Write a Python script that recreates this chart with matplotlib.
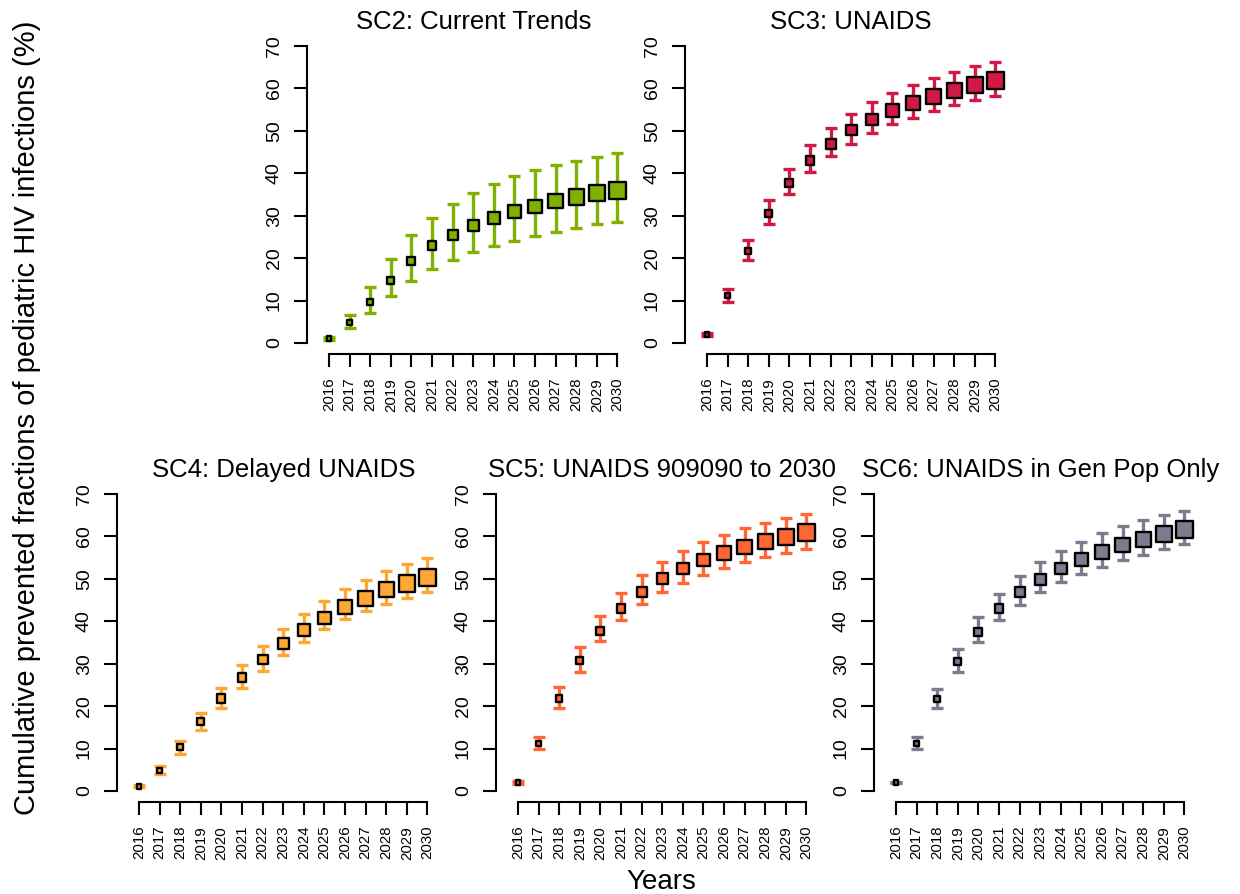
import numpy as np
import matplotlib
matplotlib.use("Agg")
import matplotlib.pyplot as plt

plt.rcParams["font.family"] = ["Liberation Sans", "DejaVu Sans"]

years = list(range(2016, 2031))

sc2_mid = [1.1, 4.8, 9.6, 14.7, 19.3, 22.9, 25.5, 27.7, 29.5, 31.0, 32.2, 33.4, 34.4, 35.3, 36.0]
sc2_low = [0.8, 3.5, 7.1, 11.1, 14.7, 17.5, 19.6, 21.4, 22.9, 24.1, 25.2, 26.2, 27.0, 28.0, 28.6]
sc2_high = [1.4, 6.7, 13.1, 19.9, 25.5, 29.5, 32.8, 35.4, 37.5, 39.4, 40.8, 42.0, 43.0, 43.9, 44.7]

sc3_mid = [2.0, 11.2, 21.7, 30.6, 37.8, 43.0, 47.0, 50.2, 52.7, 54.8, 56.6, 58.1, 59.5, 60.9, 61.9]
sc3_low = [1.7, 9.7, 19.5, 28.1, 35.2, 40.3, 44.0, 47.0, 49.4, 51.5, 53.1, 54.7, 56.0, 57.2, 58.3]
sc3_high = [2.3, 12.7, 24.2, 33.8, 41.1, 46.7, 50.7, 54.0, 56.7, 59.0, 60.9, 62.4, 63.9, 65.2, 66.2]

sc4_mid = [1.1, 4.8, 10.3, 16.3, 21.8, 26.7, 31.0, 34.7, 37.9, 40.8, 43.4, 45.4, 47.4, 48.9, 50.4]
sc4_low = [0.9, 3.9, 8.8, 14.4, 19.6, 24.2, 28.3, 32.0, 35.2, 38.1, 40.5, 42.5, 44.1, 45.6, 46.9]
sc4_high = [1.3, 5.8, 11.9, 18.4, 24.3, 29.6, 34.2, 38.2, 41.6, 44.8, 47.5, 49.8, 51.8, 53.4, 54.9]

sc5_mid = [2.0, 11.2, 21.8, 30.7, 37.8, 43.1, 47.0, 50.0, 52.4, 54.4, 56.1, 57.5, 58.8, 59.9, 60.9]
sc5_low = [1.7, 9.8, 19.6, 28.1, 35.3, 40.3, 44.0, 46.8, 49.1, 51.0, 52.6, 54.0, 55.1, 56.2, 57.0]
sc5_high = [2.3, 12.7, 24.4, 33.9, 41.2, 46.7, 50.8, 54.0, 56.5, 58.6, 60.4, 61.9, 63.2, 64.3, 65.4]

sc6_mid = [2.0, 11.2, 21.6, 30.6, 37.5, 43.0, 46.8, 49.9, 52.4, 54.5, 56.3, 57.9, 59.3, 60.5, 61.6]
sc6_low = [1.8, 9.9, 19.5, 28.0, 35.0, 40.4, 43.9, 47.0, 49.3, 51.2, 52.9, 54.4, 55.7, 57.0, 58.1]
sc6_high = [2.2, 12.8, 24.1, 33.5, 40.9, 46.5, 50.6, 53.9, 56.6, 58.8, 60.7, 62.4, 63.8, 65.1, 66.1]

titles = ["SC2: Current Trends", "SC3: UNAIDS", "SC4: Delayed UNAIDS",
          "SC5: UNAIDS 909090 to 2030", "SC6: UNAIDS in Gen Pop Only"]
colors = ["#80B000", "#D01A45", "#FFA733", "#FF6633", "#807A8F"]
series = [(sc2_mid, sc2_low, sc2_high), (sc3_mid, sc3_low, sc3_high),
          (sc4_mid, sc4_low, sc4_high), (sc5_mid, sc5_low, sc5_high),
          (sc6_mid, sc6_low, sc6_high)]

# panel placement in pixels: (y-axis line x, y of value 0)
W, H = 1240, 894
panel_pos = [(307, 343), (685, 343), (117, 791), (496, 791), (874, 791)]
PX_YR = 20.6
PX_PCT = 4.243
XLIM = (2016 - 22 / PX_YR, 2031.07)
YLIM = (-2.5, 72.8)

fig = plt.figure(figsize=(W / 100, H / 100), dpi=100)

sizes_pt = np.linspace(4.5, 17, len(years)) * 0.72

for (sx, zy), title, col, (mid, low, high) in zip(panel_pos, titles, colors, series):
    left = sx
    right = sx + (XLIM[1] - XLIM[0]) * PX_YR
    top = zy - YLIM[1] * PX_PCT
    bottom = zy - YLIM[0] * PX_PCT
    ax = fig.add_axes([left / W, 1 - bottom / H, (right - left) / W, (bottom - top) / H])
    mid = np.array(mid); low = np.array(low); high = np.array(high)
    ax.errorbar(years, mid, yerr=[mid - low, high - mid], fmt="none", ecolor=col,
                elinewidth=2.4, capsize=4, capthick=2.4, zorder=2)
    ax.scatter(years, mid, s=sizes_pt ** 2, marker="s", c=col, edgecolors="black",
               linewidths=1.7, zorder=3)
    ax.set_xlim(*XLIM)
    ax.set_ylim(*YLIM)
    for s in ["top", "right"]:
        ax.spines[s].set_visible(False)
    ax.spines["left"].set_bounds(0, 70)
    ax.spines["bottom"].set_bounds(2016, 2030)
    ax.spines["left"].set_linewidth(1.5)
    ax.spines["bottom"].set_linewidth(1.5)
    ax.set_yticks(range(0, 71, 10))
    ax.set_xticks(years)
    ax.set_xticklabels([str(y) for y in years], rotation=90)
    ax.tick_params(direction="out", length=9.4, width=1.5)
    ax.tick_params(axis="y", labelsize=14, labelrotation=90, pad=8)
    ax.tick_params(axis="x", labelsize=10.8, pad=8)
    for lab in ax.get_yticklabels():
        lab.set_va("center")
    ax.set_title(title, fontsize=18.5, pad=4)
    ax.patch.set_visible(False)

fig.text(27 / W, 1 - 418 / H, "Cumulative prevented fractions of pediatric HIV infections (%)",
         rotation=90, ha="center", va="center", fontsize=21)
fig.text(661 / W, 1 - 889 / H, "Years", ha="center", va="baseline", fontsize=20)

fig.savefig("out.png", dpi=100)
